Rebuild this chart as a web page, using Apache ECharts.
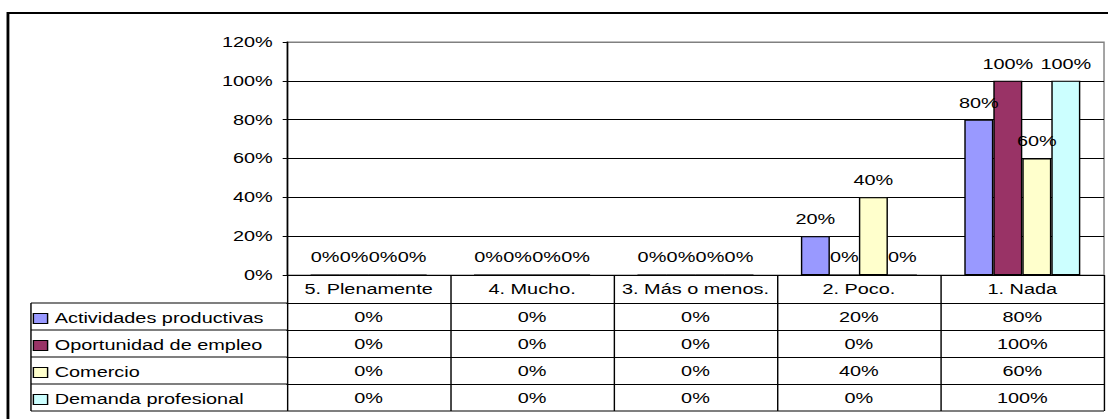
<!DOCTYPE html>
<html>
<head>
<meta charset="utf-8">
<script src="https://cdn.jsdelivr.net/npm/echarts@6/dist/echarts.min.js"></script>
<style>
    body { margin: 0; background: #fff; overflow: hidden; }
    /* the reference is stretched sideways, so draw narrower and stretch */
    #chart { width: 780px; height: 419px; transform: scaleX(1.4205); transform-origin: 0 0; }
</style>
</head>
<body>
<div id="chart"></div>
<script>
var categories = ['5. Plenamente', '4. Mucho.', '3. Más o menos.', '2. Poco.', '1. Nada'];
var seriesNames = ['Actividades productivas', 'Oportunidad de empleo', 'Comercio', 'Demanda profesional'];
var actividades = [0, 0, 0, 20, 80];
var oportunidad = [0, 0, 0, 0, 100];
var comercio = [0, 0, 0, 40, 60];
var demanda = [0, 0, 0, 0, 100];
var yTicks = [0, 20, 40, 60, 80, 100, 120];

var values = [actividades, oportunidad, comercio, demanda];
var colors = ['#9999FF', '#993366', '#FFFFCC', '#CCFFFF'];

var font = 'Arial, "Liberation Sans", sans-serif';
var gridLeft = 202, gridTop = 42, gridW = 575.2, gridH = 233;
var headH = 28, rowH = 27;
var tableLeft = 21.8;
var tableTop = gridTop + gridH;
var rowsTop = tableTop + headH;
var tableBottom = rowsTop + rowH * values.length;

var chart = echarts.init(document.getElementById('chart'), null, { renderer: 'svg' });

var textStyle = { color: '#000', fontSize: 14, fontFamily: font };

// header row = main category axis, each data row = one more axis below it
var xAxes = [{
    type: 'category',
    data: categories,
    position: 'bottom',
    axisLine: { lineStyle: { color: '#000', width: 1 } },
    axisTick: { show: true, interval: 0, length: headH, lineStyle: { color: '#000' } },
    axisLabel: Object.assign({ interval: 0, margin: 7 }, textStyle),
    splitLine: { show: false }
}];
values.forEach(function (arr, k) {
    xAxes.push({
        type: 'category',
        data: categories,
        position: 'bottom',
        offset: headH + k * rowH,
        axisLine: { lineStyle: { color: '#000', width: 1 } },
        axisTick: { show: true, interval: 0, length: rowH, lineStyle: { color: '#000' } },
        axisLabel: Object.assign({
            interval: 0,
            margin: 7,
            formatter: function (v, i) { return arr[i] + '%'; }
        }, textStyle),
        splitLine: { show: false }
    });
});

// borders of the legend column and the bottom of the table
var graphics = [{
    type: 'rect',
    shape: { x: 5.6, y: 13, width: 900, height: 440 },
    style: { fill: 'none', stroke: '#000', lineWidth: 2 },
    silent: true
}];
for (var r = 0; r <= values.length; r++) {
    var y = rowsTop + r * rowH;
    graphics.push({
        type: 'line',
        shape: { x1: tableLeft, y1: y, x2: r === values.length ? gridLeft + gridW : gridLeft, y2: y },
        style: { stroke: '#000', lineWidth: 1 },
        silent: true
    });
}
graphics.push({
    type: 'line',
    shape: { x1: tableLeft, y1: rowsTop, x2: tableLeft, y2: tableBottom },
    style: { stroke: '#000', lineWidth: 1 },
    silent: true
});

chart.setOption({
    backgroundColor: '#fff',
    animation: false,
    grid: {
        left: gridLeft,
        top: gridTop,
        width: gridW,
        height: gridH,
        show: true,
        borderColor: '#808080',
        borderWidth: 1,
        backgroundColor: '#fff'
    },
    legend: {
        orient: 'vertical',
        left: 23,
        top: rowsTop + 8.5,
        padding: 0,
        itemWidth: 10,
        itemHeight: 10,
        itemGap: 13,
        icon: 'rect',
        selectedMode: false,
        itemStyle: { borderColor: '#000', borderWidth: 1 },
        textStyle: { color: '#000', fontSize: 14, fontFamily: font, lineHeight: 14, padding: [0, 0, 0, 0] },
        data: seriesNames
    },
    xAxis: xAxes,
    yAxis: {
        type: 'value',
        min: yTicks[0],
        max: yTicks[yTicks.length - 1],
        interval: 20,
        axisLine: { show: true, lineStyle: { color: '#000' } },
        axisTick: { show: true, length: 3, lineStyle: { color: '#000' } },
        axisLabel: Object.assign({ margin: 10, formatter: '{value}%' }, textStyle),
        splitLine: {
            show: true,
            lineStyle: { color: ['#000', '#000', '#000', '#000', '#000', '#000', '#808080'], width: 1 }
        }
    },
    graphic: graphics,
    series: seriesNames.map(function (name, k) {
        return {
            name: name,
            type: 'bar',
            data: values[k],
            barGap: 0,
            barCategoryGap: '29%',
            itemStyle: { color: colors[k], borderColor: '#000', borderWidth: 1 },
            label: Object.assign({
                show: true,
                position: 'top',
                distance: 10,
                formatter: '{c}%'
            }, textStyle)
        };
    })
});
</script>
</body>
</html>
